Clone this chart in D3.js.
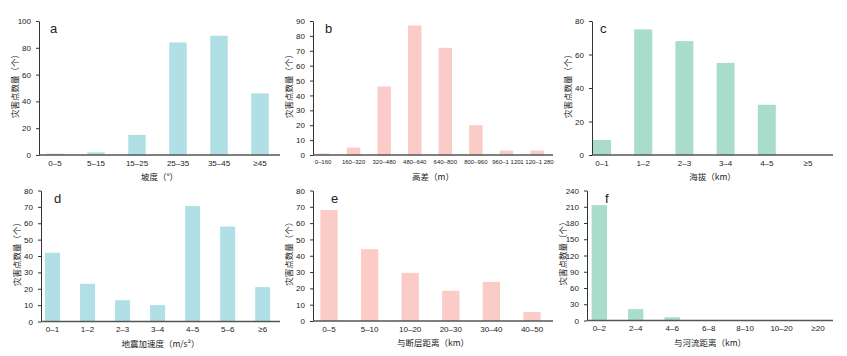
<!DOCTYPE html>
<html><head><meta charset="utf-8">
<script src="https://cdn.jsdelivr.net/npm/d3@7/dist/d3.min.js"></script>
<style>
body{margin:0;background:#fff;}
text{font-family:"Liberation Sans",Arial,sans-serif;fill:#222;}
.cjk{font-family:"Noto Sans CJK SC",sans-serif;}
</style></head>
<body><svg id="c" width="847" height="356"></svg>
<script>
// ---- data ----
const catsA = ["0–5","5–15","15–25","25–35","35–45","≥45"];
const valsA = [1, 2, 15, 84, 89, 46];
const ticksA = [0,20,40,60,80,100];

const catsB = ["0–160","160–320","320–480","480–640","640–800","800–960","960–1 120","1 120–1 280"];
const valsB = [1, 5, 46, 87, 72, 20, 3, 3];
const ticksB = [0,10,20,30,40,50,60,70,80,90];

const catsC = ["0–1","1–2","2–3","3–4","4–5","≥5"];
const valsC = [9, 75, 68, 55, 30, 0];
const ticksC = [0,20,40,60,80];

const catsD = ["0–1","1–2","2–3","3–4","4–5","5–6","≥6"];
const valsD = [42, 23, 13, 10, 70.5, 58, 21];
const ticksD = [0,10,20,30,40,50,60,70,80];

const catsE = ["0–5","5–10","10–20","20–30","30–40","40–50"];
const valsE = [68, 44, 29.5, 18.5, 24, 5.5];
const ticksE = [0,10,20,30,40,50,60,70,80];

const catsF = ["0–2","2–4","4–6","6–8","8–10","10–20","≥20"];
const valsF = [213, 21, 6, 0, 0, 0, 0];
const ticksF = [0,30,60,90,120,150,180,210,240];

const blue = "#b0dfe5", pink = "#fbcbc7", green = "#a9dccb";

const panels = [
  {id:"a", cats:catsA, vals:valsA, ticks:ticksA, color:blue, xl:"坡度（°）",
   ax:[39,280], ay:[21,155], c:[55,260], w:17.5, fs:8, lx:11},
  {id:"b", cats:catsB, vals:valsB, ticks:ticksB, color:pink, xl:"高差（m）",
   ax:[313,553], ay:[21,155], c:[323,537], w:13.5, fs:6, lx:12},
  {id:"c", cats:catsC, vals:valsC, ticks:ticksC, color:green, xl:"海拔（km）",
   ax:[592,833], ay:[21,155], c:[602,808], w:18, fs:8, lx:8},
  {id:"d", cats:catsD, vals:valsD, ticks:ticksD, color:blue, xl:"地震加速度（m/s²）",
   ax:[41,280], ay:[190.5,321.5], c:[52.5,262.7], w:15, fs:8, lx:13},
  {id:"e", cats:catsE, vals:valsE, ticks:ticksE, color:pink, xl:"与断层距离（km）",
   ax:[313,553], ay:[190.5,321], c:[329,532], w:17.3, fs:8, lx:18},
  {id:"f", cats:catsF, vals:valsF, ticks:ticksF, color:green, xl:"与河流距离（km）",
   ax:[587,833], ay:[190.5,320.5], c:[599.3,818], w:15.3, fs:8, lx:18, lc:"#7a2020"}
];

const svg = d3.select("#c");

panels.forEach(p => {
  const n = p.cats.length;
  const step = (p.c[1]-p.c[0])/(n-1);
  const pi = 1 - p.w/step;
  const x = d3.scaleBand().domain(p.cats)
    .range([p.c[0]-step/2, p.c[1]+step/2])
    .paddingInner(pi).paddingOuter(pi/2);
  const y = d3.scaleLinear().domain([0, d3.max(p.ticks)]).range([p.ay[1], p.ay[0]]);
  const g = svg.append("g");

  // bars
  g.selectAll("rect").data(p.vals).join("rect")
    .attr("x",(d,i)=>x(p.cats[i]))
    .attr("width",x.bandwidth())
    .attr("y",d=>y(d))
    .attr("height",d=>y(0)-y(d))
    .attr("fill",p.color);

  // y axis
  const ya = g.append("g").attr("transform",`translate(${p.ax[0]},0)`)
    .call(d3.axisLeft(y).tickValues(p.ticks).tickSize(3).tickSizeOuter(0).tickPadding(5));
  ya.select(".domain").attr("stroke","#333").attr("stroke-width",1);
  ya.selectAll(".tick line").attr("stroke","#333");
  ya.selectAll("text").attr("font-size",8).attr("fill","#222");

  // x axis
  const xa = g.append("g").attr("transform",`translate(0,${y(0)})`)
    .call(d3.axisBottom(x).tickSize(0).tickPadding(5));
  xa.select(".domain").remove();
  xa.selectAll("text").attr("font-size",p.fs).attr("fill","#222");
  g.append("line").attr("x1",p.ax[0]).attr("x2",p.ax[1])
    .attr("y1",y(0)).attr("y2",y(0)).attr("stroke","#555").attr("stroke-width",1.6);

  // labels
  g.append("text").attr("class","cjk")
    .attr("x",(p.ax[0]+p.ax[1])/2).attr("y",p.ay[1]+25)
    .attr("text-anchor","middle").attr("font-size",8.5).text(p.xl);
  g.append("text").attr("class","cjk")
    .attr("transform",`translate(${p.ax[0]-21},${(p.ay[0]+p.ay[1])/2-4}) rotate(-90)`)
    .attr("text-anchor","middle").attr("font-size",8.5).text("灾害点数量（个）");
  g.append("text")
    .attr("x",p.ax[0]+p.lx)
    .attr("y",p.ay[0]+12)
    .attr("font-size",13).attr("fill",p.lc||"#222").text(p.id);
});
</script></body></html>
